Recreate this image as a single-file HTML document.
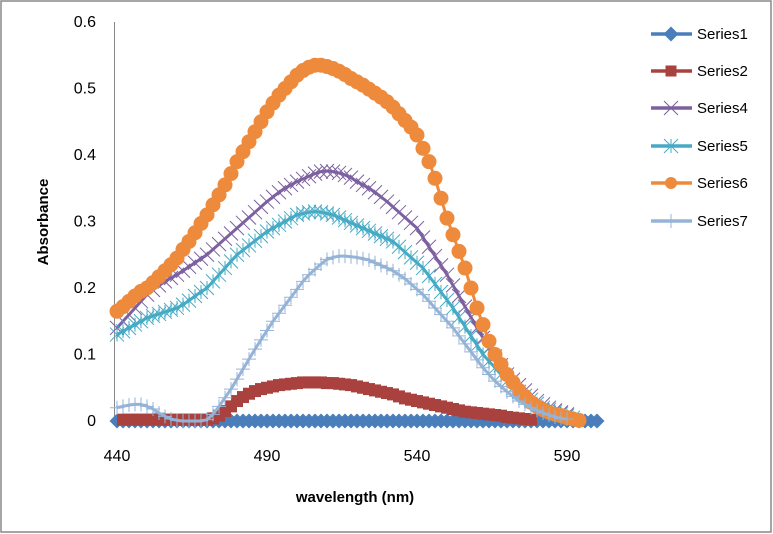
<!DOCTYPE html>
<html><head><meta charset="utf-8"><style>
html,body{margin:0;padding:0;background:#fff}
svg{display:block;font-family:"Liberation Sans",sans-serif}
</style></head><body>
<svg id="chart" width="773" height="534" viewBox="0 0 773 534">
<rect x="1" y="1" width="770" height="531" fill="#fff" stroke="#888" stroke-width="1.5"/>
<line x1="114.5" y1="22" x2="114.5" y2="421" stroke="#888" stroke-width="1"/>
<g id="yticks"></g>
<g id="xticks"></g>
<g id="plot"></g>
<text x="48" y="222" transform="rotate(-90 48 222)" text-anchor="middle" font-size="15" font-weight="bold">Absorbance</text>
<text x="355" y="502" text-anchor="middle" font-size="15" font-weight="bold">wavelength (nm)</text>
<g id="legend"></g>
</svg>
<script>
const yTicks=[0,0.1,0.2,0.3,0.4,0.5,0.6];
const yTickLabels=["0","0.1","0.2","0.3","0.4","0.5","0.6"];
const xTicks=[440,490,540,590];
const seriesNames=["Series1","Series2","Series4","Series5","Series6","Series7"];
const series1Start=440;
const series1=[0,0,0,0,0,0,0,0,0,0,0,0,0,0,0,0,0,0,0,0,0,0,0,0,0,0,0,0,0,0,0,0,0,0,0,0,0,0,0,0,0,0,0,0,0,0,0,0,0,0,0,0,0,0,0,0,0,0,0,0,0,0,0,0,0,0,0,0,0,0,0,0,0,0,0,0,0,0,0,0,0];
const series2Start=442;
const series2=[.002,.002,.002,.002,.002,.002,.002,.002,.002,.002,.002,.002,.002,.002,.002,.004,.008,.015,.022,.03,.036,.041,.045,.048,.05,.052,.054,.055,.056,.057,.058,.058,.058,.058,.057,.057,.056,.055,.054,.052,.05,.048,.046,.044,.042,.04,.037,.034,.032,.03,.028,.026,.024,.022,.02,.018,.016,.014,.013,.012,.011,.01,.009,.008,.006,.005,.004,.003,.002];
const series4Start=440;
const series4=[.14,.15,.16,.17,.18,.19,.197,.204,.21,.215,.22,.226,.232,.238,.244,.25,.258,.266,.274,.282,.29,.298,.306,.314,.322,.33,.337,.344,.35,.355,.36,.364,.368,.372,.375,.376,.375,.373,.37,.366,.36,.355,.35,.344,.337,.33,.322,.314,.306,.298,.29,.276,.262,.248,.234,.22,.204,.188,.172,.156,.14,.125,.11,.097,.084,.07,.062,.054,.046,.038,.03,.025,.02,.016,.013,.01];
const series5Start=440;
const series5=[.13,.135,.14,.145,.15,.155,.158,.161,.164,.167,.17,.175,.181,.188,.194,.2,.21,.22,.23,.24,.25,.257,.264,.271,.278,.285,.29,.295,.3,.305,.31,.312,.314,.315,.314,.312,.31,.306,.302,.298,.294,.29,.286,.282,.278,.274,.27,.262,.254,.246,.238,.23,.218,.206,.194,.182,.17,.156,.142,.128,.114,.1,.09,.08,.07,.06,.05,.044,.038,.032,.026,.02,.017,.014,.011,.008,.005];
const series6Start=440;
const series6=[.165,.172,.18,.188,.195,.2,.208,.217,.226,.235,.245,.258,.27,.283,.297,.31,.325,.34,.355,.372,.39,.405,.42,.435,.45,.465,.478,.49,.5,.51,.52,.527,.532,.535,.535,.533,.53,.526,.521,.515,.51,.505,.499,.493,.487,.48,.472,.462,.452,.442,.43,.41,.39,.365,.335,.305,.28,.255,.23,.2,.17,.145,.12,.1,.085,.07,.058,.046,.037,.028,.022,.017,.013,.01,.008,.005,.003,.001];
const series7Start=440;
const series7=[.02,.022,.024,.025,.025,.022,.018,.012,.007,.003,.001,0,0,0,0,.002,.01,.022,.035,.048,.063,.078,.093,.108,.122,.136,.15,.162,.174,.186,.198,.21,.22,.228,.236,.243,.246,.248,.248,.247,.246,.244,.242,.238,.234,.23,.226,.22,.214,.206,.198,.19,.18,.17,.16,.15,.14,.128,.116,.104,.092,.08,.07,.06,.052,.044,.037,.03,.025,.02,.016,.012,.009,.006,.004,.003];
const STEP=2;

const NS="http://www.w3.org/2000/svg";
function xs(v){return 117+(v-440)*3.0;}
function ys(v){return 421-v*665;}
function mk(tag,attrs,parent){const e=document.createElementNS(NS,tag);for(const k in attrs)e.setAttribute(k,attrs[k]);parent.appendChild(e);return e;}
const yt=document.getElementById('yticks');
yTicks.forEach((v,i)=>{const t=mk('text',{x:96,y:ys(v)+5,'text-anchor':'end','font-size':16},yt);


t.textContent=yTickLabels[i];});
const xt=document.getElementById('xticks');
xTicks.forEach(v=>{const t=mk('text',{x:xs(v),y:461,'text-anchor':'middle','font-size':16},xt);


t.textContent=String(v);});

const styles=[
 {c:"#4a7ebb",m:"diamond",s:7.5},
 {c:"#a9423f",m:"square",s:12},
 {c:"#7d60a0",m:"x",s:7},
 {c:"#46aac5",m:"star",s:7},
 {c:"#ee8a3c",m:"circle",s:7.5},
 {c:"#95b3d7",m:"plus",s:7}];
function marker(g,type,x,y,s,c){
 let e;
 if(type==="diamond")e=mk('polygon',{points:`${x},${y-s} ${x+s},${y} ${x},${y+s} ${x-s},${y}`,fill:c},g);
 else if(type==="square")e=mk('rect',{x:x-s/2,y:y-s/2,width:s,height:s,fill:c},g);
 else if(type==="circle")e=mk('circle',{cx:x,cy:y,r:s,fill:c},g);
 else if(type==="x")e=mk('path',{d:`M${x-s} ${y-s}L${x+s} ${y+s}M${x-s} ${y+s}L${x+s} ${y-s}`,stroke:c,'stroke-width':1,fill:'none'},g);
 else if(type==="star")e=mk('path',{d:`M${x-s} ${y-s}L${x+s} ${y+s}M${x-s} ${y+s}L${x+s} ${y-s}M${x} ${y-s}L${x} ${y+s}`,stroke:c,'stroke-width':1,fill:'none'},g);
 else e=mk('path',{d:`M${x-s} ${y}L${x+s} ${y}M${x} ${y-s}L${x} ${y+s}`,stroke:c,'stroke-width':1,fill:'none'},g);
 
 
}
const plot=document.getElementById('plot');
const all=[[series1Start,series1],[series2Start,series2],[series4Start,series4],[series5Start,series5],[series6Start,series6],[series7Start,series7]];
all.forEach((sd,i)=>{
 const st=styles[i];const g=mk('g',{},plot);
 
 
 const pts=sd[1].map((v,j)=>[xs(sd[0]+j*STEP),ys(v)]);
 const ln=mk('polyline',{points:pts.map(p=>p.join(',')).join(' '),fill:'none',stroke:st.c,'stroke-width':3,'stroke-linejoin':'round'},g);
 
 
 pts.forEach(p=>marker(g,st.m,p[0],p[1],st.s,st.c));
});
const lg=document.getElementById('legend');
const legY=[34,71,108,146,183,221];
seriesNames.forEach((n,i)=>{
 const st=styles[i];const g=mk('g',{},lg);
 
 
 mk('line',{x1:651,y1:legY[i],x2:692,y2:legY[i],stroke:st.c,'stroke-width':3.5},g);
 marker(g,st.m,671,legY[i],st.m==="circle"?6:(st.m==="square"?11:st.s),st.c);
 const t=mk('text',{x:697,y:legY[i]+5,'font-size':15},g);
 t.textContent=n;
});
</script>
</body></html>
